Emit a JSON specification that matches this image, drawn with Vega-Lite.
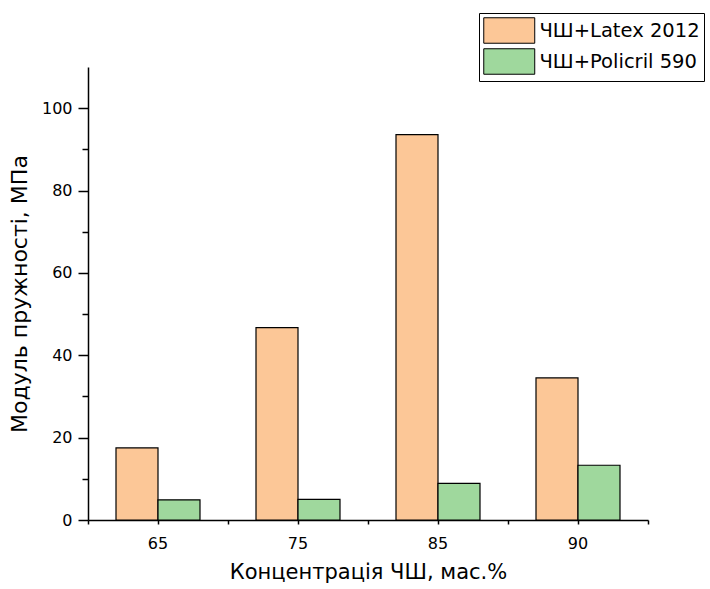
{
  "$schema": "https://vega.github.io/schema/vega-lite/v6.json",
  "width": 560,
  "height": 453,
  "autosize": {"type": "none"},
  "padding": {"left": 88, "top": 67, "right": 62, "bottom": 69},
  "background": "white",
  "config": {
    "view": {"stroke": null},
    "font": "DejaVu Sans",
    "axis": {"domainColor": "black", "tickColor": "black", "labelColor": "black", "titleColor": "black", "labelFont": "DejaVu Sans", "titleFont": "DejaVu Sans", "titleFontWeight": "normal", "domainWidth": 1.5, "tickWidth": 1.5}
  },
  "data": {
    "values": [
      {"conc": "65", "series": "ЧШ+Latex 2012", "value": 17.5},
      {"conc": "65", "series": "ЧШ+Policril 590", "value": 4.9},
      {"conc": "75", "series": "ЧШ+Latex 2012", "value": 46.7},
      {"conc": "75", "series": "ЧШ+Policril 590", "value": 5.0},
      {"conc": "85", "series": "ЧШ+Latex 2012", "value": 93.6},
      {"conc": "85", "series": "ЧШ+Policril 590", "value": 8.9},
      {"conc": "90", "series": "ЧШ+Latex 2012", "value": 34.5},
      {"conc": "90", "series": "ЧШ+Policril 590", "value": 13.3}
    ]
  },
  "encoding": {
    "xOffset": {
      "field": "series",
      "type": "nominal",
      "scale": {"paddingInner": 0, "paddingOuter": 0.6667}
    },
    "y": {
      "field": "value",
      "type": "quantitative",
      "scale": {"domain": [0, 110], "nice": false},
      "axis": {
        "title": "Модуль пружності, МПа",
        "titleFontSize": 22,
        "titlePadding": 10,
        "values": [0, 10, 20, 30, 40, 50, 60, 70, 80, 90, 100],
        "labelExpr": "datum.value % 20 === 0 ? datum.label : ''",
        "tickSize": {"condition": {"test": "datum.value % 20 === 0", "value": 10}, "value": 6},
        "labelFontSize": 16,
        "labelPadding": 6,
        "grid": false
      }
    }
  },
  "layer": [
    {
      "mark": {"type": "bar", "stroke": "black", "strokeWidth": 1.2},
      "encoding": {
        "x": {
          "field": "conc",
          "type": "nominal",
          "sort": ["65", "75", "85", "90"],
          "scale": {"padding": 0},
          "axis": {
            "orient": "bottom",
            "title": "Концентрація ЧШ, мас.%",
            "titleFontSize": 21,
            "titlePadding": 10,
            "labelAngle": 0,
            "labelFontSize": 16,
            "labelPadding": 11,
            "tickSize": 4
          }
        },
        "fill": {
          "field": "series",
          "type": "nominal",
          "scale": {"domain": ["ЧШ+Latex 2012", "ЧШ+Policril 590"], "range": ["#FCC797", "#9FD89D"]},
          "legend": {
            "title": null,
            "orient": "none",
            "legendX": 391,
            "legendY": -54,
            "symbolType": "M-1,-1H3V1H-1Z",
            "symbolSize": 650,
            "symbolStrokeColor": "black",
            "symbolStrokeWidth": 1,
            "labelFontSize": 19.5,
            "labelFont": "DejaVu Sans",
            "labelColor": "black",
            "labelOffset": 29.5,
            "labelLimit": 250,
            "rowPadding": 0,
            "padding": 4,
            "strokeColor": "black",
            "fillColor": "white"
          }
        }
      }
    },
    {
      "mark": {"type": "bar", "opacity": 0},
      "encoding": {
        "x": {
          "field": "conc",
          "type": "nominal",
          "sort": ["65", "75", "85", "90"],
          "axis": {
            "orient": "bottom",
            "title": null,
            "labels": false,
            "domain": false,
            "tickBand": "extent",
            "tickSize": 4
          }
        }
      }
    }
  ],
  "resolve": {"axis": {"x": "independent"}}
}
